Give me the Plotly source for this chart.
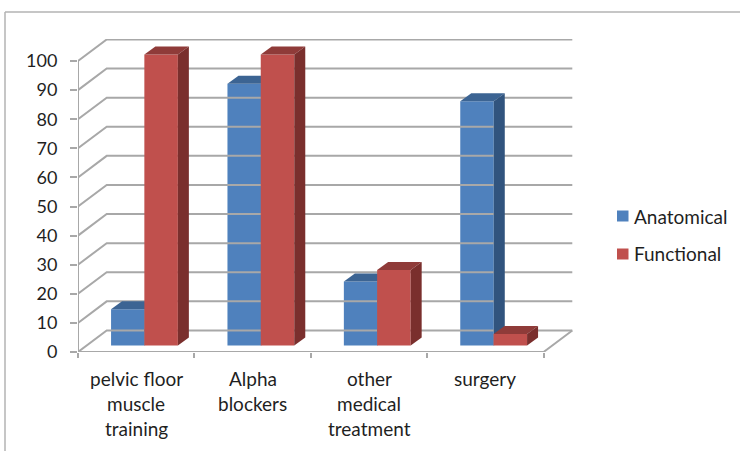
import plotly.graph_objects as go

# Chart data
categories = [
    ["pelvic floor", "muscle", "training"],
    ["Alpha", "blockers"],
    ["other", "medical", "treatment"],
    ["surgery"],
]
series_names = ["Anatomical", "Functional"]
anatomical = [12.5, 90, 22, 84]
functional = [100, 100, 26, 4]
value_ticks = list(range(0, 101, 10))

# Colours
BLUE = ("#4f81bd", "#3c6493", "#31547e")   # front, top, side
RED = ("#c0504d", "#8f3b39", "#7a2f2d")
GRID = "#a8a8a8"
TEXT = "#1f1f1f"
FONT = "Lato"

# Plot area and oblique projection, in axis units
X_SCALE = 116.4    # px per category
Y_SCALE = 2.91     # px per value unit
LEFT, RIGHT_PX, TOP, BOTTOM = 78, 573, 39, 352
X_MAX = (RIGHT_PX - LEFT) / X_SCALE
Y_MAX = (BOTTOM - TOP) / Y_SCALE
WALL_DX, WALL_DY = 0.2466, 7.4     # shift from front plane to back wall
BAR_DX, BAR_DY = 0.0945, 2.75      # extrusion of each bar
FLOOR = 2.2                        # lift of the bar fronts above the front edge
BAR_W = 0.288
N = len(categories)

fig = go.Figure()

# Back wall with its diagonal connectors and the floor outline
gx, gy = [], []
for v in value_ticks:
    gx += [0, WALL_DX, N + WALL_DX, None]
    gy += [v, v + WALL_DY, v + WALL_DY, None]
gx += [0, N, N + WALL_DX, None, 0, 0]
gy += [0, 0, WALL_DY, None, 0, 100]
fig.add_trace(go.Scatter(x=gx, y=gy, mode="lines", line=dict(color=GRID, width=2),
                         showlegend=False, hoverinfo="skip", cliponaxis=False))


def add_series(name, values, colours, start, xaxis, yaxis):
    """Front faces as bars, top and side faces as filled parallelograms."""
    xs = [i + start for i in range(N)]
    fig.add_trace(go.Bar(x=xs, y=values, base=[FLOOR] * N, width=[BAR_W] * N, offset=0,
                         name=name, marker=dict(color=colours[0], line=dict(width=0)),
                         showlegend=False, xaxis=xaxis, yaxis=yaxis))
    for x0, v in zip(xs, values):
        x1 = x0 + BAR_W
        top = FLOOR + v
        fig.add_trace(go.Scatter(
            x=[x0, x1, x1 + BAR_DX, x0 + BAR_DX, x0],
            y=[top, top, top + BAR_DY, top + BAR_DY, top],
            mode="lines", fill="toself", fillcolor=colours[1], line=dict(width=0),
            showlegend=False, hoverinfo="skip", xaxis=xaxis, yaxis=yaxis))
        fig.add_trace(go.Scatter(
            x=[x1, x1 + BAR_DX, x1 + BAR_DX, x1, x1],
            y=[FLOOR, FLOOR + BAR_DY, top + BAR_DY, top, FLOOR],
            mode="lines", fill="toself", fillcolor=colours[2], line=dict(width=0),
            showlegend=False, hoverinfo="skip", xaxis=xaxis, yaxis=yaxis))


# Functional sits on an overlaid axis pair so it paints over the Anatomical faces
add_series(series_names[0], anatomical, BLUE, 0.284, "x", "y")
add_series(series_names[1], functional, RED, 0.570, "x2", "y2")

# Category labels, one annotation per line for the wide leading
annotations = []
for i, lines in enumerate(categories):
    for k, line in enumerate(lines):
        annotations.append(dict(
            x=i + 0.5, y=0, xref="x", yref="paper", text=line, showarrow=False,
            xanchor="center", yanchor="middle", yshift=-(26 + 25 * k),
            font=dict(family=FONT, size=19, color=TEXT)))

plot_w, plot_h = RIGHT_PX - LEFT, BOTTOM - TOP


def px_x(px):
    return (px - LEFT) / plot_w


def px_y(px):
    return (BOTTOM - px) / plot_h


frame_colour = "#b3b3b3"
shapes = [
    dict(type="line", xref="paper", yref="paper", x0=px_x(5), x1=px_x(5),
         y0=px_y(451), y1=px_y(12), line=dict(color=frame_colour, width=1.5)),
    dict(type="line", xref="paper", yref="paper", x0=px_x(5), x1=px_x(740),
         y0=px_y(12), y1=px_y(12), line=dict(color=frame_colour, width=1.5)),
]

# Key on the right: swatch and label for each series
for name, colours, cy in zip(series_names, (BLUE, RED), (216, 254)):
    shapes.append(dict(type="rect", xref="paper", yref="paper",
                       x0=px_x(617), x1=px_x(628.5), y0=px_y(cy + 5.5), y1=px_y(cy - 5.5),
                       fillcolor=colours[0], line=dict(width=0)))
    annotations.append(dict(x=px_x(634), y=px_y(cy), xref="paper", yref="paper", text=name,
                            showarrow=False, xanchor="left", yanchor="middle", xshift=-2,
                            font=dict(family=FONT, size=19, color=TEXT)))

fig.update_layout(
    width=740, height=451, autosize=False,
    margin=dict(l=LEFT, r=740 - RIGHT_PX, t=TOP, b=451 - BOTTOM, pad=0),
    paper_bgcolor="white", plot_bgcolor="white",
    barmode="overlay", showlegend=False,
    xaxis=dict(range=[0, X_MAX], tickmode="array", tickvals=list(range(N + 1)),
               showticklabels=False, ticks="outside", ticklen=5, tickwidth=1.5, tickcolor=GRID,
               showgrid=False, zeroline=False, showline=False),
    yaxis=dict(range=[0, Y_MAX], tickmode="array", tickvals=value_ticks,
               ticktext=[str(v) for v in value_ticks],
               ticks="outside", ticklen=7, tickwidth=1.5, tickcolor=GRID, ticklabelstandoff=9,
               tickfont=dict(family=FONT, size=18, color=TEXT),
               showgrid=False, zeroline=False, showline=False),
    xaxis2=dict(range=[0, X_MAX], overlaying="x", visible=False),
    yaxis2=dict(range=[0, Y_MAX], overlaying="y", visible=False),
    annotations=annotations,
    shapes=shapes,
)

fig.write_html("out.html")
